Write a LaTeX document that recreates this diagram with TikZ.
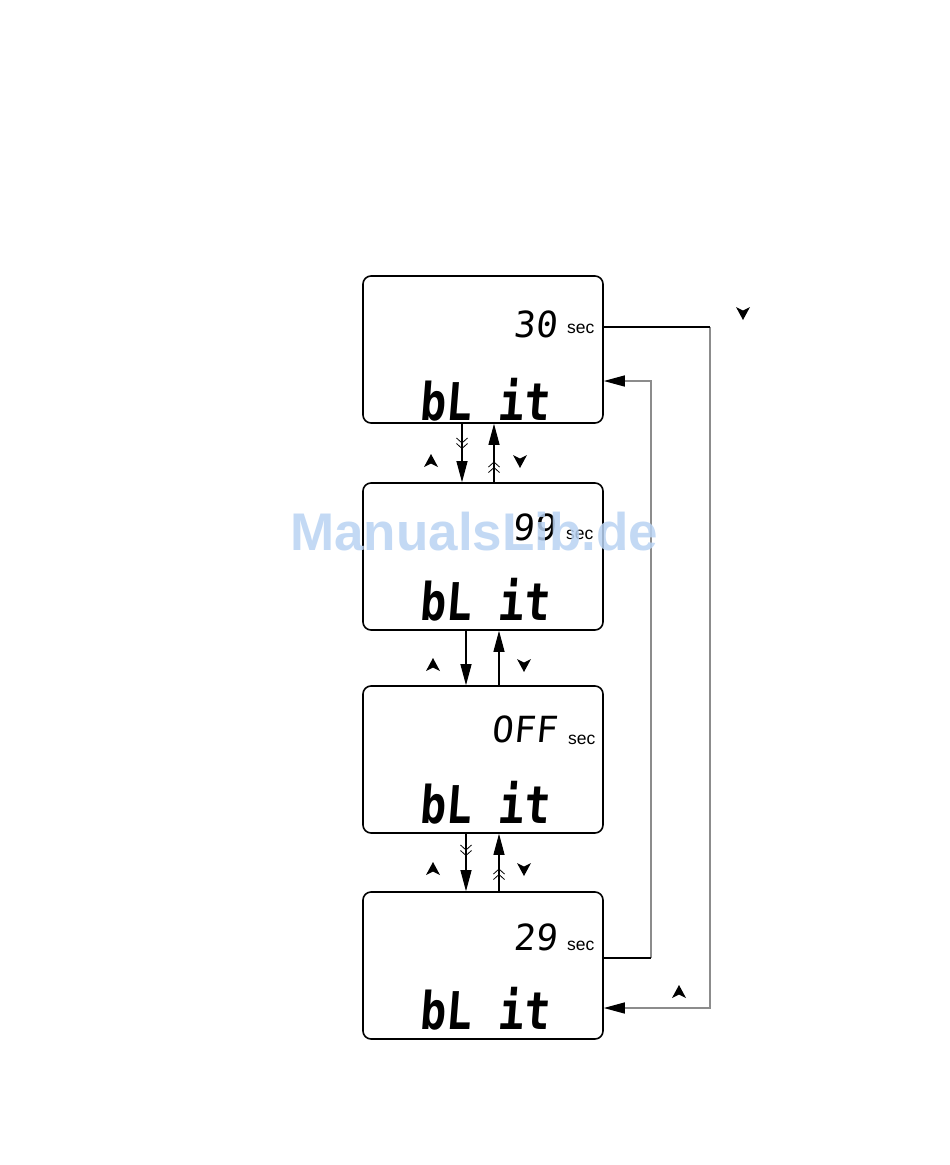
\documentclass[tikz,border=0pt]{standalone}
\usepackage{fontspec}
\setmainfont{Liberation Sans}
\newfontfamily\lcdfont{DejaVu Sans Mono}[FakeSlant=0.1]
\newfontfamily\lcdbig{DejaVu Sans Mono}[FakeSlant=0.08,FakeStretch=0.83]
\newfontfamily\secfont{Liberation Sans}
\usetikzlibrary{arrows.meta,calc}
\definecolor{lgray}{HTML}{8C8C8C}
\definecolor{wmblue}{HTML}{B9D3F3}
\tikzset{
  lcdbox/.style={draw=black,line width=1.6pt,rounded corners=8pt,minimum width=240pt,minimum height=147pt,inner sep=0pt},
  digits/.style={font=\lcdfont\fontsize{36}{36}\selectfont,inner sep=0pt,anchor=base east},
  bigtext/.style={font=\lcdbig\bfseries\fontsize{52}{52}\selectfont,inner sep=0pt,anchor=base west},
  sectext/.style={font=\secfont\fontsize{17.5}{18}\selectfont,inner sep=0pt,anchor=base west},
  conn/.style={draw=black,line width=1.1pt,-{Triangle[length=21pt,width=11pt]}},
  loop/.style={draw=lgray,line width=1.4pt,-{Triangle[length=21pt,width=11pt,color=black]}},
  chev/.style={draw=black,line width=0.8pt},
  btn/.style={fill=black,draw=none},
}
\newcommand{\chevdown}[2]{%
  \draw[chev] (#1-5.5,#2) -- (#1,#2+5) -- (#1+5.5,#2);
  \draw[chev] (#1-5.5,#2+5.5) -- (#1,#2+10.5) -- (#1+5.5,#2+5.5);}
\newcommand{\chevup}[2]{%
  \draw[chev] (#1-5.5,#2) -- (#1,#2-5) -- (#1+5.5,#2);
  \draw[chev] (#1-5.5,#2+5.5) -- (#1,#2+0.5) -- (#1+5.5,#2+5.5);}
\newcommand{\btnup}[2]{\fill[btn] (#1,#2-7) -- (#1+7,#2+6) -- (#1,#2+2.5) -- (#1-7,#2+6) -- cycle;}
\newcommand{\btndown}[2]{\fill[btn] (#1,#2+7) -- (#1+7,#2-6) -- (#1,#2-2.5) -- (#1-7,#2-6) -- cycle;}
\begin{document}
\begin{tikzpicture}[x=1pt,y=-1pt]
\useasboundingbox (0,0) rectangle (950,1165);
\fill[white] (0,0) rectangle (950,1165);

% displays
\node[lcdbox] (b1) at (483,349.5) {};
\node[lcdbox] (b2) at (483,556.5) {};
\node[lcdbox] (b3) at (483,759.5) {};
\node[lcdbox] (b4) at (483,965.5) {};

\node[digits] (d1) at (557,337) {30};
\node[sectext] (s1) at (567,333) {sec};
\node[bigtext] (t1) at (419,420) {bL it};

\node[digits] (d2) at (556,540) {99};
\node[sectext] (s2) at (566,539) {sec};
\node[bigtext] (t2) at (419,620) {bL it};

\node[digits] (d3) at (557,742) {OFF};
\node[sectext] (s3) at (568,744) {sec};
\node[bigtext] (t3) at (419,823) {bL it};

\node[digits] (d4) at (557,950) {29};
\node[sectext] (s4) at (567,950) {sec};
\node[bigtext] (t4) at (419,1029) {bL it};

% vertical connectors 1-2
\draw[conn] ($(b1.south)+(-21,0)$) -- ($(b2.north)+(-21,0)$);
\draw[conn] ($(b2.north)+(11,0)$) -- ($(b1.south)+(11,0)$);
\chevdown{462}{438}
\chevup{494}{467}
\btnup{431}{461}
\btndown{520}{461}

% 2-3
\draw[conn] ($(b2.south)+(-17,0)$) -- ($(b3.north)+(-17,0)$);
\draw[conn] ($(b3.north)+(16,0)$) -- ($(b2.south)+(16,0)$);
\btnup{433}{665}
\btndown{524}{665}

% 3-4
\draw[conn] ($(b3.south)+(-17,0)$) -- ($(b4.north)+(-17,0)$);
\draw[conn] ($(b4.north)+(16,0)$) -- ($(b3.south)+(16,0)$);
\chevdown{466}{845}
\chevup{499}{874}
\btnup{433}{869}
\btndown{524}{869}

% right loops
\coordinate (a1) at (710,327);
\coordinate (a2) at (710,1008);
\draw[loop] (a1) -- (a2) -- ($(b4.east)+(0,42.5)$);
\draw[black,line width=1.2pt] ($(b1.east)+(0,-22.5)$) -- (a1);
\btndown{743}{313}
\btnup{679}{992}

\coordinate (c1) at (651,958);
\coordinate (c2) at (651,381);
\draw[loop] (c1) -- (c2) -- ($(b1.east)+(0,31.5)$);
\draw[black,line width=1.4pt] ($(b4.east)+(-2,-7.5)$) -- (c1);

% watermark
\node[font=\fontsize{53}{53}\selectfont\bfseries,text=wmblue,opacity=0.85,inner sep=0pt,anchor=base west] (wm) at (290,550) {ManualsLib.de};
\end{tikzpicture}
\end{document}
